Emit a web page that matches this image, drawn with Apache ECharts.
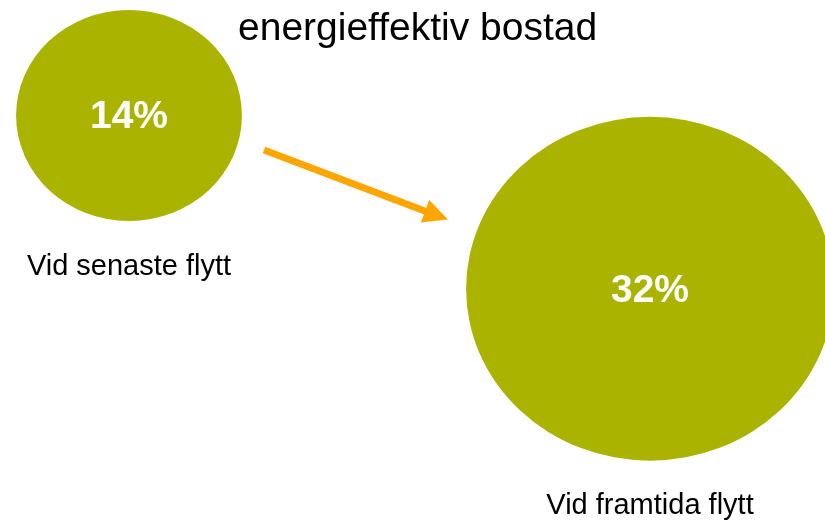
<!DOCTYPE html>
<html>
<head>
<meta charset="utf-8">
<script src="https://cdn.jsdelivr.net/npm/echarts@6/dist/echarts.min.js"></script>
<style>
  html, body { margin: 0; padding: 0; background: #ffffff; }
  #chart { width: 825px; height: 521px; }
</style>
</head>
<body>
<div id="chart"></div>
<script>
// Share of movers who chose / would choose an energy-efficient home
const chartTitle = 'energieffektiv bostad';
const categories = ['Vid senaste flytt', 'Vid framtida flytt'];
const shares = [14, 32];

const GREEN = '#AAB400';
const ORANGE = '#FFA500';
const FONT = '"Liberation Sans", Arial, Helvetica, sans-serif';

// Bubble size grows with the share; slightly wider than tall
function bubbleSize(v) {
  const w = 47.6 * Math.pow(v, 0.59);
  return [w, w / 1.07];
}

const points = categories.map((c, i) => [c, shares[i]]);

const chart = echarts.init(document.getElementById('chart'), null, { renderer: 'canvas' });

chart.setOption({
  animation: false,
  backgroundColor: '#ffffff',
  title: {
    text: chartTitle,
    left: 238,
    top: 10,
    padding: 0,
    textStyle: { fontFamily: FONT, fontSize: 39, fontWeight: 'normal', color: '#000000' }
  },
  grid: { left: 129, right: 175, top: 0, bottom: 59, containLabel: false },
  xAxis: {
    type: 'category',
    data: categories,
    boundaryGap: false,
    show: false
  },
  yAxis: {
    type: 'value',
    inverse: true,
    min: 2,
    max: 50,
    show: false
  },
  series: [
    {
      // category captions under each bubble (white base shape hidden behind the bubble)
      type: 'scatter',
      data: points,
      symbol: 'circle',
      symbolSize: (val) => bubbleSize(val[1]),
      itemStyle: { color: '#ffffff', opacity: 1 },
      label: {
        show: true,
        position: 'bottom',
        distance: 31,
        opacity: 1,
        formatter: (p) => p.value[0],
        fontFamily: FONT,
        fontSize: 29,
        color: '#000000'
      },
      silent: true,
      z: 1
    },
    {
      type: 'scatter',
      data: points,
      symbol: 'circle',
      symbolSize: (val) => bubbleSize(val[1]),
      itemStyle: { color: GREEN, opacity: 1 },
      label: {
        show: true,
        position: 'inside',
        offset: [0, 2],
        formatter: (p) => p.value[1] + '%',
        fontFamily: FONT,
        fontSize: 39,
        fontWeight: 'bold',
        color: '#ffffff'
      },
      silent: true,
      z: 2
    }
  ],
  graphic: [
    {
      type: 'group',
      silent: true,
      children: [
        {
          type: 'line',
          shape: { x1: 264, y1: 150, x2: 426, y2: 211.5 },
          style: { stroke: ORANGE, lineWidth: 7, lineCap: 'butt' }
        },
        {
          type: 'polygon',
          shape: { points: [[448, 219.5], [420.8, 222.4], [429.2, 200]] },
          style: { fill: ORANGE }
        }
      ]
    }
  ]
});
</script>
</body>
</html>
